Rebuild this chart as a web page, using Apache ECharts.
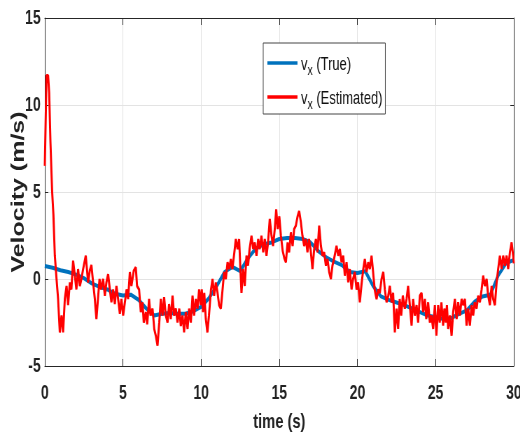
<!DOCTYPE html>
<html>
<head>
<meta charset="utf-8">
<script src="https://cdn.jsdelivr.net/npm/echarts@6/dist/echarts.min.js"></script>
<style>
  html, body { margin: 0; padding: 0; background: #fff; overflow: hidden; }
  #wrap { width: 520px; height: 438px; overflow: hidden; }
  /* the reference is horizontally squeezed; draw wider and squeeze the same way */
  #chart { width: 743px; height: 438px; transform: scaleX(0.7); transform-origin: 0 0; }
</style>
</head>
<body>
<div id="wrap"><div id="chart"></div></div>
<script>
// ---- data ----
const xTicks = [0, 5, 10, 15, 20, 25, 30];
const yTicks = [-5, 0, 5, 10, 15];

const trueTime = [0,0.5,1,1.5,2,2.5,3,3.5,4,4.5,5,5.5,6,6.5,7,7.5,8,8.5,9,9.5,10,10.5,11,11.5,12,12.5,13,13.5,14,14.5,15,15.5,16,16.5,17,17.5,18,18.5,19,19.5,20,20.5,21,21.5,22,22.5,23,23.5,24,24.5,25,25.5,26,26.5,27,27.5,28,28.5,29,29.5,30];
const trueVel = [0.75,0.65,0.5,0.4,0.25,0.05,-0.25,-0.45,-0.6,-0.85,-0.95,-0.9,-1.2,-1.7,-2.1,-2.0,-1.95,-2.0,-2.0,-1.85,-1.6,-1.1,-0.4,0.4,0.7,0.45,1.2,1.75,2.0,2.1,2.3,2.35,2.35,2.3,2.1,1.6,1.25,1.0,0.8,0.4,0.35,0.45,-0.4,-1.0,-1.2,-1.35,-1.5,-1.7,-1.9,-2.1,-2.2,-2.3,-2.25,-2.0,-1.8,-1.3,-1.0,-0.9,0.2,0.9,1.1];

const estTime = [0.00,0.11,0.21,0.28,0.36,0.47,0.55,0.64,0.75,0.85,0.96,1.07,1.17,1.28,1.39,1.49,1.60,1.70,1.81,1.92,2.02,2.13,2.24,2.34,2.45,2.62,2.77,2.88,2.98,3.09,3.20,3.30,3.40,3.50,3.60,3.73,3.84,3.94,4.05,4.16,4.26,4.37,4.48,4.58,4.69,4.80,4.90,5.01,5.23,5.33,5.44,5.54,5.69,5.82,5.90,6.03,6.14,6.25,6.33,6.46,6.55,6.67,6.76,6.89,7.00,7.10,7.21,7.32,7.42,7.53,7.63,7.74,7.85,7.95,8.06,8.17,8.27,8.38,8.49,8.60,8.70,8.81,8.91,9.02,9.13,9.23,9.34,9.45,9.55,9.66,9.77,9.87,9.98,10.04,10.12,10.20,10.30,10.40,10.50,10.63,10.73,10.83,10.94,11.05,11.15,11.26,11.37,11.47,11.58,11.69,11.79,11.90,12.00,12.10,12.22,12.33,12.43,12.52,12.58,12.68,12.79,12.90,13.00,13.10,13.22,13.33,13.43,13.54,13.65,13.75,13.86,13.97,14.07,14.18,14.28,14.39,14.50,14.60,14.71,14.80,14.90,15.00,15.10,15.22,15.32,15.42,15.53,15.63,15.74,15.85,15.95,16.06,16.17,16.27,16.38,16.48,16.59,16.70,16.80,16.90,17.00,17.12,17.23,17.34,17.44,17.55,17.66,17.76,17.87,17.98,18.08,18.19,18.30,18.40,18.50,18.66,18.77,18.87,18.98,19.09,19.19,19.30,19.41,19.51,19.62,19.72,19.83,19.94,20.04,20.15,20.26,20.37,20.47,20.58,20.69,20.79,20.90,21.00,21.10,21.22,21.33,21.43,21.54,21.65,21.75,21.86,21.97,22.07,22.18,22.28,22.39,22.50,22.60,22.70,22.80,22.90,23.03,23.14,23.24,23.35,23.46,23.56,23.67,23.78,23.88,23.99,24.10,24.20,24.31,24.40,24.52,24.63,24.73,24.84,24.95,25.05,25.16,25.26,25.37,25.48,25.56,25.65,25.72,25.80,25.91,26.02,26.12,26.23,26.34,26.44,26.55,26.66,26.76,26.87,26.98,27.08,27.19,27.30,27.40,27.50,27.62,27.72,27.83,27.94,28.04,28.15,28.26,28.36,28.47,28.58,28.68,28.79,28.90,29.00,29.11,29.22,29.32,29.43,29.54,29.64,29.75,29.86,29.96,30.00];
const estVel = [6.5,11.7,11.7,10.7,7.9,5.0,3.7,1.35,0.0,-1.15,-3.07,-2.1,-3.07,-1.15,-0.4,-1.5,-0.2,-0.6,1.05,0.2,-0.6,0.57,-0.4,0.0,0.57,1.34,-0.2,0.5,0.8,-0.2,-1.15,-2.3,-1.15,0.0,-0.6,0.0,-0.96,-0.2,0.28,-0.6,-1.34,-0.6,-1.44,-0.4,-1.15,-2.0,-1.15,-2.1,-0.6,-1.15,0.4,-0.4,0.48,0.67,-0.4,-0.6,-1.9,-1.34,-2.5,-1.9,-2.6,-1.15,-2.1,-1.7,-2.87,-3.26,-3.83,-2.5,-1.15,-2.1,-1.05,-2.1,-2.5,-1.44,-2.3,-0.96,-2.1,-1.7,-2.5,-1.7,-2.7,-2.1,-3.07,-1.9,-2.87,-1.7,-2.5,-0.96,-2.1,-1.15,-1.7,-0.6,-1.5,-0.6,-1.9,-0.8,-2.3,-3.07,-2.1,-0.6,0.0,-0.96,-0.2,-0.8,-1.5,-1.7,-0.6,0.4,0.0,0.96,0.57,1.15,0.57,1.34,2.3,1.72,2.3,0.4,-0.8,0.57,-0.4,1.34,0.77,1.72,2.49,1.72,2.1,1.34,2.3,1.72,2.49,1.53,2.3,1.34,2.1,3.45,2.49,1.9,2.87,4.0,2.87,3.6,2.5,1.6,1.2,0.96,2.1,1.53,2.68,1.9,2.87,3.07,3.6,3.9,3.26,2.49,1.9,2.3,1.53,2.3,1.72,0.57,1.72,2.3,1.53,3.07,1.9,1.34,1.53,0.77,1.15,0.4,0.0,0.77,1.15,1.9,1.34,1.72,0.96,1.34,0.19,0.96,-0.19,0.57,-0.6,0.0,0.4,-0.6,-0.2,-1.34,-0.3,0.57,1.15,0.4,0.96,0.57,1.34,0.4,-0.6,-1.15,-0.6,-0.8,0.0,0.4,-0.6,-1.34,-0.96,-0.4,-1.34,-0.8,-3.07,-1.7,-2.87,-1.15,-2.1,-0.96,-1.7,-1.15,-0.4,-1.5,-2.68,-1.15,-2.1,-1.5,-2.5,-0.96,-0.8,-1.9,-1.15,-2.3,-1.34,-2.5,-2.1,-2.87,-1.5,-3.26,-1.5,-2.5,-1.34,-2.68,-1.7,-2.5,-1.5,-2.87,-2.1,-3.26,-1.9,-1.15,-2.3,-1.34,-2.1,-1.15,-1.5,-1.15,-2.68,-1.7,-2.68,-1.5,-2.1,-1.34,-1.7,-0.96,-1.34,-0.6,0.19,-0.4,0.0,-0.96,-1.5,-0.4,-1.15,-1.5,-0.2,0.57,1.34,0.57,1.34,0.77,1.34,0.57,1.53,2.1,1.34,0.9];

const seriesNames = ['vx (True)', 'vx (Estimated)'];
const legendParts = { 'vx (True)': ['v', 'x', ' (True)'], 'vx (Estimated)': ['v', 'x', ' (Estimated)'] };
const xName = 'time (s)';
const yName = 'Velocity (m/s)';

// ---- chart ----
const SANS = "'Liberation Sans', Arial, Helvetica, sans-serif";
const axisCol = '#262626';
const gridCol = '#e3e3e3';
const txtCol = '#222222';

const zip = (a, b) => a.map((t, i) => [t, b[i]]);

const chart = echarts.init(document.getElementById('chart'), null, { renderer: 'canvas' });

const baseX = {
  type: 'value', min: xTicks[0], max: xTicks[xTicks.length - 1], interval: 5,
  nameMoveOverlap: false,
  axisLine: { show: true, onZero: false, lineStyle: { color: axisCol, width: 1 } },
  axisTick: { show: true, inside: true, length: 7, lineStyle: { color: axisCol } }
};
const baseY = {
  type: 'value', min: yTicks[0], max: yTicks[yTicks.length - 1], interval: 5,
  nameMoveOverlap: false,
  axisLine: { show: true, onZero: false, lineStyle: { color: axisCol, width: 1 } },
  axisTick: { show: true, inside: true, length: 5, lineStyle: { color: axisCol } }
};

chart.setOption({
  animation: false,
  backgroundColor: '#ffffff',
  grid: { left: 64, right: 9, top: 18, bottom: 72, containLabel: false, outerBoundsMode: 'none' },
  xAxis: [
    Object.assign({}, baseX, {
      position: 'bottom',
      name: xName, nameLocation: 'middle', nameGap: 46,
      nameTextStyle: { fontFamily: SANS, fontWeight: 'bold', fontSize: 21, color: txtCol },
      axisLabel: { margin: 17, fontFamily: SANS, fontWeight: 'bold', fontSize: 20, color: txtCol },
      splitLine: { show: true, lineStyle: { color: gridCol, width: 1 } }
    }),
    Object.assign({}, baseX, {
      position: 'top', axisLabel: { show: false }, splitLine: { show: false }
    })
  ],
  yAxis: [
    Object.assign({}, baseY, {
      position: 'left',
      name: yName, nameLocation: 'middle', nameGap: 24, nameRotate: 90,
      nameTextStyle: { fontFamily: SANS, fontWeight: 'bold', fontSize: 25, color: txtCol },
      axisLabel: { margin: 6, fontFamily: SANS, fontWeight: 'bold', fontSize: 20, color: txtCol },
      splitLine: { show: true, lineStyle: { color: gridCol, width: 1 } }
    }),
    Object.assign({}, baseY, {
      position: 'right', axisLabel: { show: false }, splitLine: { show: false }
    })
  ],
  legend: {
    orient: 'vertical',
    left: 376, top: 43,
    padding: [5, 4, 2, 6],
    itemGap: 4,
    icon: 'rect',
    itemWidth: 43, itemHeight: 3.5,
    backgroundColor: '#ffffff',
    borderColor: '#444444', borderWidth: 1,
    data: seriesNames,
    formatter: function (name) {
      const p = legendParts[name];
      return '{v|' + p[0] + '}{s|' + p[1] + '}{t|' + p[2] + '}';
    },
    textStyle: {
      fontFamily: SANS, color: '#111',
      rich: {
        v: { fontFamily: SANS, fontSize: 18.5, lineHeight: 20, padding: [2, 0, 0, 0], verticalAlign: 'top', color: '#111' },
        s: { fontFamily: SANS, fontSize: 15, lineHeight: 16, padding: [15, 0, 0, 0], color: '#111' },
        t: { fontFamily: SANS, fontSize: 18.5, lineHeight: 20, padding: [2, 0, 0, 0], verticalAlign: 'top', color: '#111' }
      }
    }
  },
  series: [
    {
      name: seriesNames[0], type: 'line', xAxisIndex: 0, yAxisIndex: 0,
      data: zip(trueTime, trueVel),
      symbol: 'none', showSymbol: false, smooth: false,
      lineStyle: { color: '#0072BD', width: 4 },
      itemStyle: { color: '#0072BD' },
      z: 2
    },
    {
      name: seriesNames[1], type: 'line', xAxisIndex: 0, yAxisIndex: 0,
      data: zip(estTime, estVel),
      symbol: 'none', showSymbol: false, smooth: false,
      lineStyle: { color: '#FF0000', width: 3 },
      itemStyle: { color: '#FF0000' },
      z: 3
    }
  ]
});
</script>
</body>
</html>
